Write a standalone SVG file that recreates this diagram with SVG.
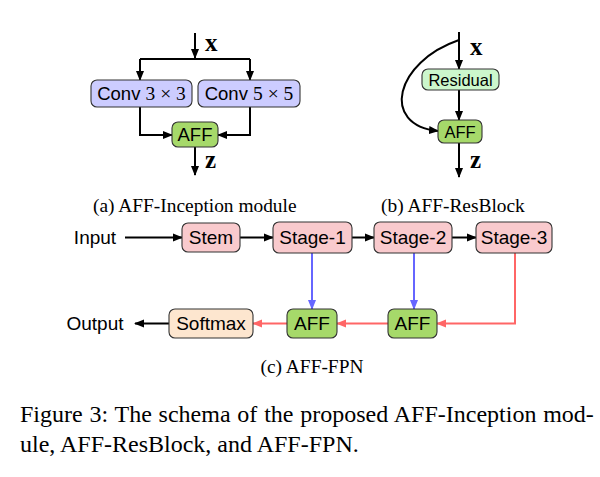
<svg xmlns="http://www.w3.org/2000/svg" width="600" height="477" viewBox="0 0 600 477">
<style>
.box{stroke:#333;stroke-width:1.1}
.conv{fill:#ccccff}
.aff{fill:#a6d96a}
.res{fill:#ccf7cc}
.stage{fill:#f9cacd}
.soft{fill:#fde6cf}
.t{font-family:"Liberation Sans",Arial,sans-serif;font-size:18.5px;fill:#000;text-anchor:middle}
.tc{font-family:"Liberation Sans",Arial,sans-serif;font-size:19px;fill:#000;text-anchor:middle}
.tb{font-family:"Liberation Sans",Arial,sans-serif;font-size:16.5px;fill:#000;text-anchor:middle}
.m{font-family:"Liberation Serif","Times New Roman",serif;font-size:19.5px}
.v{font-family:"Liberation Serif","Times New Roman",serif;font-weight:bold;font-size:25px;fill:#000}
.cap{font-family:"Liberation Serif","Times New Roman",serif;font-size:19.4px;fill:#000}
.fig{font-family:"Liberation Serif","Times New Roman",serif;font-size:24px;fill:#000}
.k{fill:none;stroke:#000;stroke-width:2}
.b{fill:none;stroke:#6666ff;stroke-width:2}
.r{fill:none;stroke:#ff6666;stroke-width:2}
</style>
<defs>
<marker id="ak" viewBox="0 0 10 10" refX="9" refY="5" markerWidth="10" markerHeight="10" markerUnits="userSpaceOnUse" orient="auto"><path d="M0,1 L10,5 L0,9 z" fill="#000"/></marker>
<marker id="ab" viewBox="0 0 10 10" refX="9" refY="5" markerWidth="10" markerHeight="10" markerUnits="userSpaceOnUse" orient="auto"><path d="M0,1 L10,5 L0,9 z" fill="#6666ff"/></marker>
<marker id="ar" viewBox="0 0 10 10" refX="9" refY="5" markerWidth="10" markerHeight="10" markerUnits="userSpaceOnUse" orient="auto"><path d="M0,1 L10,5 L0,9 z" fill="#ff6666"/></marker>
</defs>

<g id="connectors">
<!-- panel a -->
<path class="k" d="M195,33 V58" marker-end="url(#ak)"/>
<path class="k" d="M140,59 H250"/>
<path class="k" d="M140,59 V80" marker-end="url(#ak)"/>
<path class="k" d="M250,59 V80" marker-end="url(#ak)"/>
<path class="k" d="M140,107 V135 H172" marker-end="url(#ak)"/>
<path class="k" d="M250,107 V135 H218" marker-end="url(#ak)"/>
<path class="k" d="M195,147 V175" marker-end="url(#ak)"/>
<!-- panel b -->
<path class="k" d="M459,32 V69" marker-end="url(#ak)"/>
<path class="k" d="M459,90 V120" marker-end="url(#ak)"/>
<path class="k" d="M459,143 V177" marker-end="url(#ak)"/>
<path class="k" d="M459,40 C395,62 380,125 438,131" marker-end="url(#ak)"/>
<!-- panel c -->
<path class="k" d="M125,237.5 H182" marker-end="url(#ak)"/>
<path class="k" d="M240,237.5 H273" marker-end="url(#ak)"/>
<path class="k" d="M352,237.5 H374" marker-end="url(#ak)"/>
<path class="k" d="M452,237.5 H476" marker-end="url(#ak)"/>
<path class="b" d="M312,253 V309" marker-end="url(#ab)"/>
<path class="b" d="M414,253 V309" marker-end="url(#ab)"/>
<path class="r" d="M515,253 V323.5 H437" marker-end="url(#ar)"/>
<path class="r" d="M388,323.5 H337" marker-end="url(#ar)"/>
<path class="r" d="M287,323.5 H253" marker-end="url(#ar)"/>
<path class="k" d="M169,323.5 H135" marker-end="url(#ak)"/>
</g>

<!-- panel a nodes -->
<g id="conv3">
<rect class="box conv" x="91" y="80" width="101" height="27" rx="6"/>
<text class="t" x="141.5" y="100">Conv <tspan class="m">3 × 3</tspan></text>
</g>
<g id="conv5">
<rect class="box conv" x="198" y="80" width="102" height="27" rx="6"/>
<text class="t" x="249" y="100">Conv <tspan class="m">5 × 5</tspan></text>
</g>
<g id="affA">
<rect class="box aff" x="172" y="122" width="46" height="25" rx="6"/>
<text class="t" x="195" y="141">AFF</text>
</g>
<text class="v" x="205" y="51">x</text>
<text class="v" x="205" y="168">z</text>

<!-- panel b nodes -->
<g id="residual">
<rect class="box res" x="422" y="69" width="77" height="21" rx="6"/>
<text class="tb" x="460.5" y="85.5">Residual</text>
</g>
<g id="affB">
<rect class="box aff" x="438" y="120" width="44" height="23" rx="6"/>
<text class="tb" x="460" y="137.5">AFF</text>
</g>
<text class="v" x="470" y="55">x</text>
<text class="v" x="470" y="168">z</text>

<text class="cap" x="93" y="212">(a) AFF-Inception module</text>
<text class="cap" x="381" y="212">(b) AFF-ResBlock</text>

<!-- panel c nodes -->
<text class="tc" x="95" y="244">Input</text>
<g id="stem">
<rect class="box stage" x="182" y="223" width="58" height="29" rx="6"/>
<text class="tc" x="211" y="244">Stem</text>
</g>
<g id="stage1">
<rect class="box stage" x="273" y="222" width="79" height="31" rx="6"/>
<text class="tc" x="312.5" y="244">Stage-1</text>
</g>
<g id="stage2">
<rect class="box stage" x="374" y="222" width="78" height="31" rx="6"/>
<text class="tc" x="413" y="244">Stage-2</text>
</g>
<g id="stage3">
<rect class="box stage" x="476" y="222" width="76" height="31" rx="6"/>
<text class="tc" x="514" y="244">Stage-3</text>
</g>
<g id="aff1">
<rect class="box aff" x="287" y="309" width="50" height="29" rx="6"/>
<text class="tc" x="312" y="330">AFF</text>
</g>
<g id="aff2">
<rect class="box aff" x="388" y="309" width="49" height="29" rx="6"/>
<text class="tc" x="412.5" y="330">AFF</text>
</g>
<g id="softmax">
<rect class="box soft" x="169" y="309" width="84" height="29" rx="6"/>
<text class="tc" x="211" y="330">Softmax</text>
</g>
<text class="tc" x="95" y="330">Output</text>

<text class="cap" x="312" y="373" text-anchor="middle">(c) AFF-FPN</text>

<text class="fig" x="20" y="422" word-spacing="0.8">Figure 3: The schema of the proposed AFF-Inception mod-</text>
<text class="fig" x="20" y="452">ule, AFF-ResBlock, and AFF-FPN.</text>
</svg>
